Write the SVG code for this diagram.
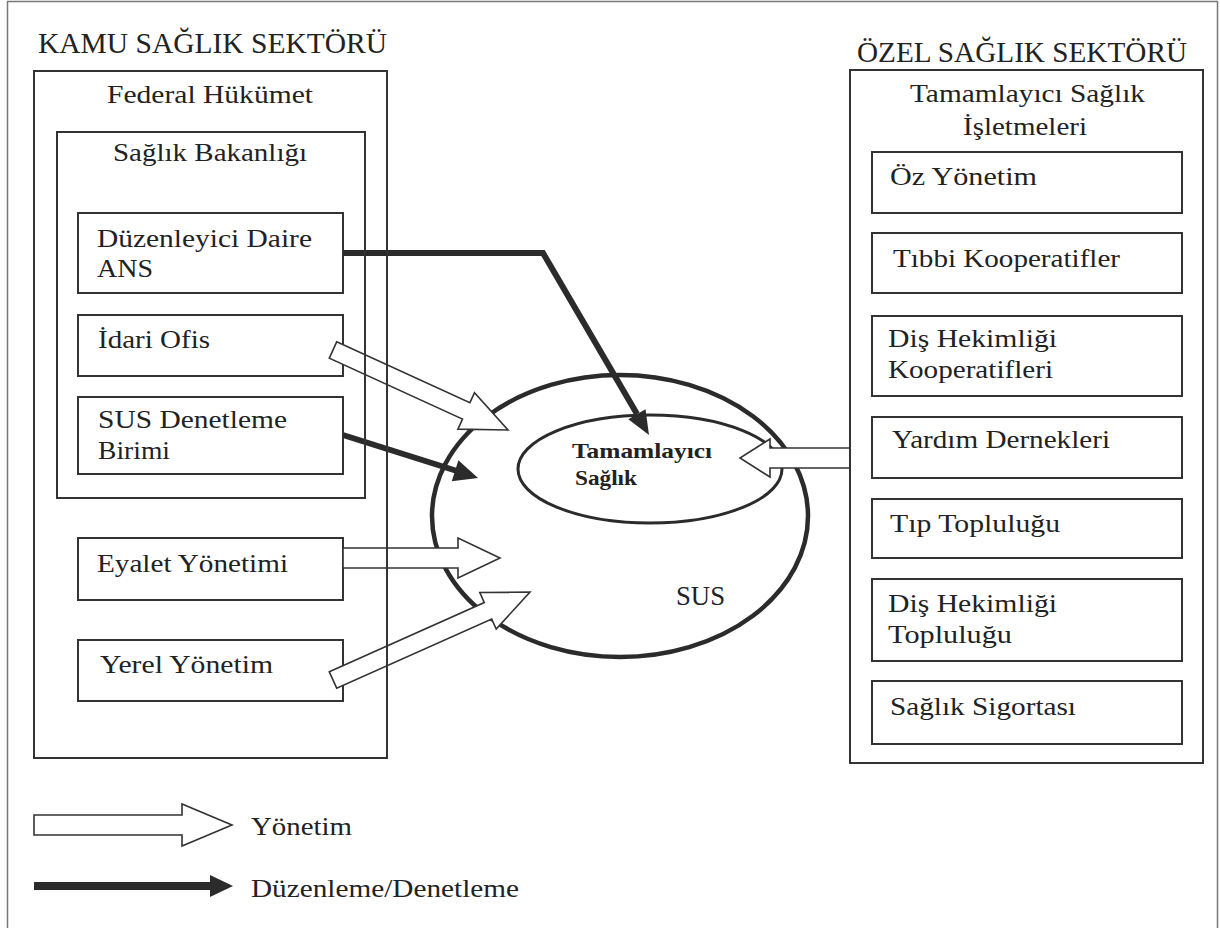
<svg xmlns="http://www.w3.org/2000/svg" width="1220" height="928" viewBox="0 0 1220 928">
<style>
.box{fill:#fff;stroke:#333;stroke-width:2}
.cont{fill:none;stroke:#333;stroke-width:2}
.t{font-family:"Liberation Serif","Times New Roman",serif;font-size:26px;fill:#222}
.h{font-family:"Liberation Serif","Times New Roman",serif;font-size:30px;fill:#222}
.b{font-family:"Liberation Serif","Times New Roman",serif;font-size:21px;font-weight:bold;fill:#222}
.hollow{fill:#fff;stroke:#333;stroke-width:1.6;stroke-linejoin:miter}
.dark{fill:none;stroke:#2b2b2b;stroke-width:6;stroke-linejoin:miter}
.head{fill:#2b2b2b;stroke:none}
</style>
<rect x="0" y="0" width="1220" height="928" fill="#fff"/>
<rect x="7.5" y="1.5" width="1210" height="960" fill="none" stroke="#777" stroke-width="1.5"/>

<text class="h" x="38" y="53" textLength="349" lengthAdjust="spacingAndGlyphs">KAMU SAĞLIK SEKTÖRÜ</text>
<text class="h" x="857" y="62" textLength="330" lengthAdjust="spacingAndGlyphs">ÖZEL SAĞLIK SEKTÖRÜ</text>

<!-- left inner boxes -->
<g id="duzenleyici"><rect class="box" x="78" y="213" width="265" height="80"/>
<text class="t" x="97" y="247" textLength="215" lengthAdjust="spacingAndGlyphs">Düzenleyici Daire</text>
<text class="t" x="97" y="277" textLength="56" lengthAdjust="spacingAndGlyphs">ANS</text></g>
<g id="idari"><rect class="box" x="78" y="315" width="265" height="61"/>
<text class="t" x="98" y="348" textLength="112" lengthAdjust="spacingAndGlyphs">İdari Ofis</text></g>
<g id="susdenetleme"><rect class="box" x="78" y="397" width="265" height="77"/>
<text class="t" x="98" y="428" textLength="189" lengthAdjust="spacingAndGlyphs">SUS Denetleme</text>
<text class="t" x="98" y="459" textLength="72" lengthAdjust="spacingAndGlyphs">Birimi</text></g>
<g id="eyalet"><rect class="box" x="78" y="538" width="265" height="62"/>
<text class="t" x="97" y="572" textLength="191" lengthAdjust="spacingAndGlyphs">Eyalet Yönetimi</text></g>
<g id="yerel"><rect class="box" x="78" y="640" width="265" height="61"/>
<text class="t" x="100" y="673" textLength="173" lengthAdjust="spacingAndGlyphs">Yerel Yönetim</text></g>

<!-- SUS ellipse -->
<g id="sus">
<ellipse cx="620" cy="516" rx="188" ry="141" fill="none" stroke="#2b2b2b" stroke-width="4.5"/>
<text class="t" x="676" y="605" style="font-size:27px" textLength="49" lengthAdjust="spacingAndGlyphs">SUS</text>
</g>
<g id="tamamlayici">
<ellipse cx="650" cy="469" rx="132" ry="54" fill="none" stroke="#2b2b2b" stroke-width="3"/>
<text class="b" x="572" y="458" textLength="140" lengthAdjust="spacingAndGlyphs">Tamamlayıcı</text>
<text class="b" x="575" y="485" textLength="62" lengthAdjust="spacingAndGlyphs">Sağlık</text>
</g>

<!-- connectors -->
<g id="connectors">
<polygon class="hollow" points="336.7,341.8 469.9,402.7 474.5,392.7 508,430 457.9,429.1 462.5,419.1 329.3,358.2"/>
<polygon class="hollow" points="343,548 458,548 458,538 500,558 458,578 458,568 343,568"/>
<polygon class="hollow" points="329.3,671.8 484.3,602.6 479.8,592.5 530,592 496.2,629.1 491.7,619 336.7,688.2"/>
<polygon class="hollow" points="850,448 770,448 770,439 740,458 770,477 770,468 850,468"/>
<polyline class="dark" points="343,253 543,253 637,414"/>
<polygon class="head" points="628.3,419.3 649,435 645.5,409.3"/>
<line class="dark" x1="343" y1="435" x2="457" y2="471"/>
<polygon class="head" points="458.4,460.2 478,478 451.8,481.2"/>
</g>

<!-- left containers (drawn on top) -->
<g id="federal"><rect class="cont" x="34" y="71" width="353" height="687"/>
<text class="t" x="107" y="103" textLength="206" lengthAdjust="spacingAndGlyphs">Federal Hükümet</text></g>
<g id="bakanlik"><rect class="cont" x="57" y="132" width="308" height="366"/>
<text class="t" x="113" y="161" textLength="194" lengthAdjust="spacingAndGlyphs">Sağlık Bakanlığı</text></g>

<!-- right side -->
<g id="ozel"><rect class="cont" x="850" y="70" width="353" height="693"/>
<text class="t" x="910" y="102" textLength="235" lengthAdjust="spacingAndGlyphs">Tamamlayıcı Sağlık</text>
<text class="t" x="963" y="135" textLength="124" lengthAdjust="spacingAndGlyphs">İşletmeleri</text></g>
<g id="ozyonetim"><rect class="box" x="872" y="152" width="310" height="61"/>
<text class="t" x="890" y="185" textLength="147" lengthAdjust="spacingAndGlyphs">Öz Yönetim</text></g>
<g id="tibbi"><rect class="box" x="872" y="233" width="310" height="60"/>
<text class="t" x="893" y="267" textLength="227" lengthAdjust="spacingAndGlyphs">Tıbbi Kooperatifler</text></g>
<g id="dishekimkoop"><rect class="box" x="872" y="316" width="310" height="80"/>
<text class="t" x="888" y="347" textLength="169" lengthAdjust="spacingAndGlyphs">Diş Hekimliği</text>
<text class="t" x="888" y="378" textLength="165" lengthAdjust="spacingAndGlyphs">Kooperatifleri</text></g>
<g id="yardim"><rect class="box" x="872" y="417" width="310" height="61"/>
<text class="t" x="892" y="448" textLength="218" lengthAdjust="spacingAndGlyphs">Yardım Dernekleri</text></g>
<g id="tip"><rect class="box" x="872" y="499" width="310" height="59"/>
<text class="t" x="890" y="532" textLength="170" lengthAdjust="spacingAndGlyphs">Tıp Topluluğu</text></g>
<g id="dishekimtop"><rect class="box" x="872" y="579" width="310" height="82"/>
<text class="t" x="888" y="612" textLength="169" lengthAdjust="spacingAndGlyphs">Diş Hekimliği</text>
<text class="t" x="888" y="643" textLength="124" lengthAdjust="spacingAndGlyphs">Topluluğu</text></g>
<g id="sigorta"><rect class="box" x="872" y="681" width="310" height="63"/>
<text class="t" x="890" y="715" textLength="186" lengthAdjust="spacingAndGlyphs">Sağlık Sigortası</text></g>

<!-- legend -->
<g id="legend">
<polygon class="hollow" points="34,815 182,815 182,804 232,825 182,846 182,835 34,835"/>
<text class="t" x="251" y="835" textLength="101" lengthAdjust="spacingAndGlyphs">Yönetim</text>
<line class="dark" x1="34" y1="886" x2="212" y2="886" style="stroke-width:8"/>
<polygon class="head" points="210,875 233,886 210,897"/>
<text class="t" x="251" y="897" textLength="268" lengthAdjust="spacingAndGlyphs">Düzenleme/Denetleme</text>
</g>
</svg>
